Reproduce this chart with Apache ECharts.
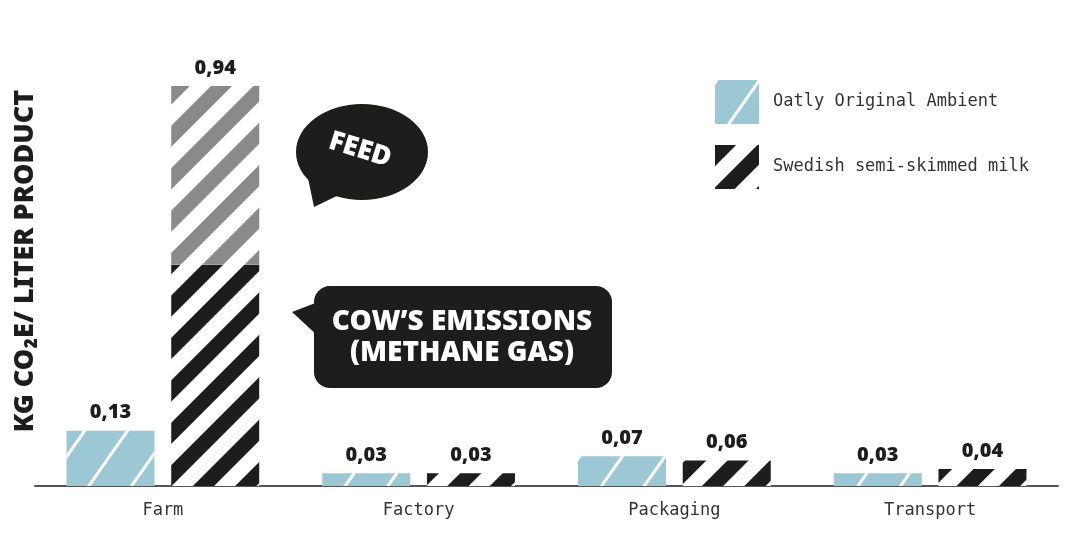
<!DOCTYPE html>
<html>
<head>
<meta charset="utf-8">
<script src="https://cdn.jsdelivr.net/npm/echarts@6/dist/echarts.min.js"></script>
<style>
  html, body { margin: 0; padding: 0; background: #fff; }
  #chart { width: 1080px; height: 553px; }
</style>
</head>
<body>
<div id="chart"></div>
<script>
const categories = ['Farm', 'Factory', 'Packaging', 'Transport']
const oatly = [0.13, 0.03, 0.07, 0.03]
// milk: cow's emissions at the farm, then the other stages
const milk = [0.52, 0.03, 0.06, 0.04]
// feed part of the farm bar, stacked on top
const feed = [0.42, '-', '-', '-']

const fmt = v => v.toFixed(2).replace('.', ',')

// diagonal stripes ("/") drawn by the decal
const oatlyDecal = {
  symbol: 'rect',
  color: '#ffffff',
  dashArrayX: [1, 0],
  dashArrayY: [3, 32],
  rotation: -Math.PI * 55 / 180,
}
const milkDecal = {
  symbol: 'rect',
  color: '#1d1d1b',
  dashArrayX: [1, 0],
  dashArrayY: [15, 15],
  rotation: -Math.PI / 4,
}
const feedDecal = { ...milkDecal, color: '#8a8a8a' }

const labelStyle = {
  show: true,
  position: 'top',
  distance: 8,
  fontFamily: 'Noto Sans',
  fontWeight: 900,
  fontSize: 20,
  color: '#1d1d1b',
}

const chart = echarts.init(document.getElementById('chart'))

chart.setOption({
  backgroundColor: '#ffffff',
  animation: false,
  grid: { left: 35, right: 22, top: 60.5, bottom: 67 },
  legend: {
    orient: 'vertical',
    left: 710,
    top: 75,
    itemWidth: 44,
    itemHeight: 44,
    itemGap: 21,
    icon: 'rect',
    data: ['Oatly Original Ambient', 'Swedish semi-skimmed milk'],
    textStyle: {
      fontFamily: 'DejaVu Sans Mono',
      fontSize: 17,
      color: '#333',
      padding: [0, 0, 0, 9],
    },
  },
  xAxis: {
    type: 'category',
    data: categories,
    axisLine: { lineStyle: { color: '#555', width: 2 } },
    axisTick: { show: false },
    axisLabel: {
      margin: 16,
      fontFamily: 'DejaVu Sans Mono',
      fontSize: 17,
      color: '#333',
    },
  },
  yAxis: {
    type: 'value',
    min: 0,
    max: 1,
    show: false,
  },
  series: [
    {
      name: 'Oatly Original Ambient',
      type: 'bar',
      barWidth: 88,
      barGap: '19%',
      data: oatly,
      itemStyle: { color: '#9cc7d5', decal: oatlyDecal },
      label: { ...labelStyle, formatter: p => fmt(p.value) },
    },
    {
      name: 'Swedish semi-skimmed milk',
      type: 'bar',
      stack: 'milk',
      barWidth: 88,
      data: milk,
      itemStyle: { color: '#ffffff', decal: milkDecal },
      label: {
        ...labelStyle,
        formatter: p => (feed[p.dataIndex] === '-' ? fmt(p.value) : ''),
      },
    },
    {
      name: 'Feed',
      type: 'bar',
      stack: 'milk',
      barWidth: 88,
      data: feed,
      itemStyle: { color: '#ffffff', decal: feedDecal },
      label: {
        ...labelStyle,
        formatter: p => fmt(p.value + milk[p.dataIndex]),
      },
    },
  ],
  graphic: [
    {
      type: 'text',
      x: 25,
      y: 261,
      rotation: Math.PI / 2,
      style: {
        text: 'KG CO₂E/ LITER PRODUCT',
        fontFamily: 'Noto Sans',
        fontWeight: 900,
        fontSize: 27,
        fill: '#1d1d1b',
        align: 'center',
        verticalAlign: 'middle',
      },
    },
    // FEED bubble
    {
      type: 'ellipse',
      shape: { cx: 362, cy: 152, rx: 66, ry: 48 },
      style: { fill: '#1d1d1b' },
    },
    {
      type: 'polygon',
      shape: { points: [[308, 178], [314, 207], [345, 192]] },
      style: { fill: '#1d1d1b' },
    },
    {
      type: 'text',
      x: 360,
      y: 150,
      rotation: -0.3,
      style: {
        text: 'FEED',
        fontFamily: 'Noto Sans',
        fontWeight: 900,
        fontSize: 27,
        fill: '#ffffff',
        align: 'center',
        verticalAlign: 'middle',
      },
    },
    // COW'S EMISSIONS bubble
    {
      type: 'rect',
      shape: { x: 314, y: 286, width: 298, height: 102, r: 16 },
      style: { fill: '#1d1d1b' },
    },
    {
      type: 'polygon',
      shape: { points: [[318, 302], [292, 312], [318, 336]] },
      style: { fill: '#1d1d1b' },
    },
    {
      type: 'text',
      x: 462,
      y: 338,
      style: {
        text: 'COW\u2019S EMISSIONS\n(METHANE GAS)',
        fontFamily: 'Noto Sans',
        fontWeight: 900,
        fontSize: 28,
        lineHeight: 31,
        fill: '#ffffff',
        align: 'center',
        verticalAlign: 'middle',
      },
    },
  ],
})
</script>
</body>
</html>
